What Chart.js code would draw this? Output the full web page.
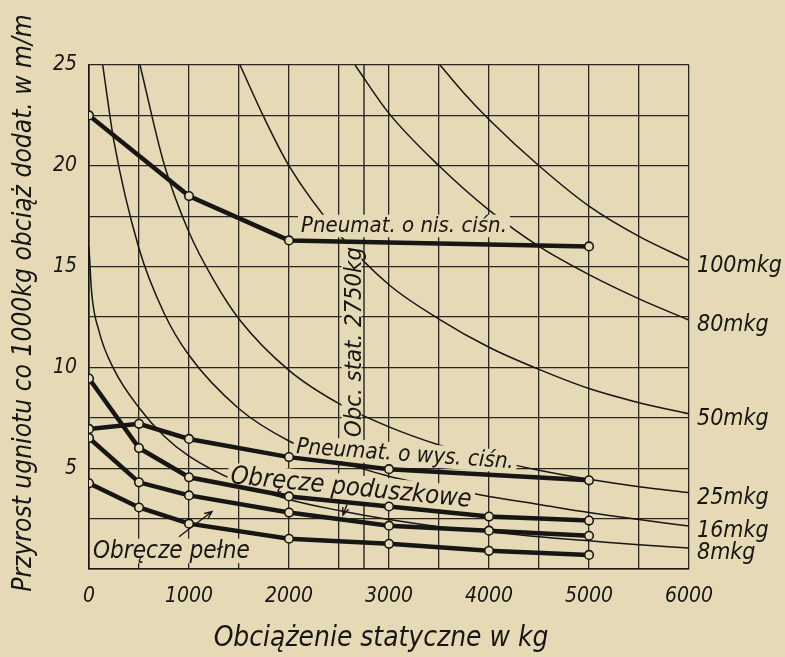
<!DOCTYPE html>
<html>
<head>
<meta charset="utf-8">
<script src="https://cdn.jsdelivr.net/npm/chart.js@4/dist/chart.umd.min.js"></script>
<style>
  html, body { margin: 0; padding: 0; background: #e6d9b6; }
  #wrap { width: 785px; height: 657px; }
</style>
</head>
<body>
<div id="wrap"><canvas id="c" width="785" height="657"></canvas></div>
<script>
const PAPER = '#e6d9b6';
const INK = '#171614';
const FONT = "'DejaVu Sans Condensed', 'Liberation Sans Narrow', 'DejaVu Sans', sans-serif";

// Axis ticks
const xTickValues = [0, 1000, 2000, 3000, 4000, 5000, 6000];
const yTickValues = [5, 10, 15, 20, 25];

// Measured tyre series: load (kg) -> deformation increment per 1000 kg (mm)
const loadsNis = [0, 1000, 2000, 5000];
const pneumatNis = [22.5, 18.5, 16.3, 16.0];

const loadsWys = [0, 500, 1000, 2000, 3000, 5000];
const pneumatWys = [6.95, 7.2, 6.45, 5.55, 4.95, 4.4];

const loadsRim = [0, 500, 1000, 2000, 3000, 4000, 5000];
const obreczeGorne = [9.45, 6.0, 4.55, 3.6, 3.1, 2.6, 2.4];
const obreczeSrodkowe = [6.5, 4.3, 3.65, 2.8, 2.15, 1.9, 1.65];
const obreczePelne = [4.25, 3.05, 2.25, 1.5, 1.25, 0.9, 0.7];

// Constant-energy curves (mkg)
const e100x = [3510, 3750, 4000, 4500, 5000, 5500, 6000];
const e100y = [25, 23.6, 22.3, 20.0, 18.0, 16.5, 15.3];

const e80x = [2660, 3000, 3500, 4000, 4500, 5000, 5500, 6000];
const e80y = [25, 22.6, 20.0, 17.8, 16.0, 14.6, 13.4, 12.35];

const e50x = [1510, 1750, 2000, 2500, 3000, 3500, 4000, 4500, 5000, 5500, 6000];
const e50y = [25, 22.4, 20.0, 16.6, 14.1, 12.4, 11.0, 9.9, 8.95, 8.25, 7.7];

const e25x = [510, 750, 1000, 1250, 1500, 2000, 2500, 3000, 3500, 4000, 4500, 5000, 5500, 6000];
const e25y = [25, 20.1, 16.7, 14.3, 12.4, 9.85, 8.2, 7.05, 6.15, 5.45, 4.9, 4.45, 4.08, 3.78];

const e16x = [137, 250, 500, 750, 1000, 1500, 2000, 2500, 3000, 3500, 4000, 4500, 5000, 5500, 6000];
const e16y = [25, 21.2, 15.9, 12.7, 10.6, 7.95, 6.35, 5.35, 4.6, 4.05, 3.6, 3.2, 2.8, 2.45, 2.13];

const e8x = [0, 25, 100, 250, 500, 750, 1000, 1500, 2000, 2500, 3000, 3500, 4000, 4500, 5000, 5500, 6000];
const e8y = [16, 13.8, 11.8, 9.9, 8.0, 6.6, 5.6, 4.3, 3.45, 2.9, 2.45, 2.1, 1.85, 1.6, 1.4, 1.2, 1.04];

const energyNames = ['100mkg', '80mkg', '50mkg', '25mkg', '16mkg', '8mkg'];

// Static load marker
const staticLoad = 2750;

function pts(xs, ys) { return xs.map((x, i) => ({ x, y: ys[i] })); }

function thickSeries(label, xs, ys) {
  return {
    label, data: pts(xs, ys), showLine: true, tension: 0,
    borderColor: INK, borderWidth: 4.5,
    pointRadius: 4.3, pointBorderWidth: 1.6,
    pointBackgroundColor: PAPER, pointBorderColor: INK,
    order: 0, thick: true
  };
}
function thinSeries(label, xs, ys) {
  return {
    label, data: pts(xs, ys), showLine: true,
    cubicInterpolationMode: 'monotone',
    borderColor: INK, borderWidth: 1.5, pointRadius: 0,
    order: 1, endLabel: label
  };
}

const datasets = [
  thickSeries('Pneumat. o nis. ciśn.', loadsNis, pneumatNis),
  thickSeries('Pneumat. o wys. ciśn.', loadsWys, pneumatWys),
  thickSeries('Obręcze poduszkowe', loadsRim, obreczeGorne),
  thickSeries('Obręcze poduszkowe (2)', loadsRim, obreczeSrodkowe),
  thickSeries('Obręcze pełne', loadsRim, obreczePelne),
  thinSeries(energyNames[0], e100x, e100y),
  thinSeries(energyNames[1], e80x, e80y),
  thinSeries(energyNames[2], e50x, e50y),
  thinSeries(energyNames[3], e25x, e25y),
  thinSeries(energyNames[4], e16x, e16y),
  thinSeries(energyNames[5], e8x, e8y),
  {
    label: 'Obc. stat. 2750kg', data: [{ x: staticLoad, y: 0 }, { x: staticLoad, y: 25 }],
    showLine: true, borderColor: INK, borderWidth: 1.3, pointRadius: 0, order: 1
  }
];

function fitSize(ctx, text, width, base) {
  ctx.font = `italic ${base}px ${FONT}`;
  const w = ctx.measureText(text).width;
  return base * width / w;
}

// text with a paper-coloured backing that hides grid and thin curves under it
function boxedText(ctx, text, x, y, width, angle, descent) {
  const size = fitSize(ctx, text, width, 20);
  ctx.save();
  ctx.translate(x, y);
  ctx.rotate(angle * Math.PI / 180);
  ctx.font = `italic ${size}px ${FONT}`;
  const w = ctx.measureText(text).width;
  ctx.fillStyle = PAPER;
  const d = descent === undefined ? size * 0.22 : descent;
  ctx.fillRect(-3, -size * 0.8, w + 6, size * 0.8 + d);
  ctx.fillStyle = INK;
  ctx.textBaseline = 'alphabetic';
  ctx.textAlign = 'left';
  ctx.fillText(text, 0, 0);
  ctx.restore();
}

function arrow(ctx, x0, y0, x1, y1) {
  const a = Math.atan2(y1 - y0, x1 - x0);
  const h = 8;
  ctx.save();
  ctx.strokeStyle = INK;
  ctx.lineWidth = 1.4;
  ctx.beginPath();
  ctx.moveTo(x0, y0); ctx.lineTo(x1, y1);
  ctx.moveTo(x1 - h * Math.cos(a - 0.4), y1 - h * Math.sin(a - 0.4));
  ctx.lineTo(x1, y1);
  ctx.lineTo(x1 - h * Math.cos(a + 0.4), y1 - h * Math.sin(a + 0.4));
  ctx.stroke();
  ctx.restore();
}

function drawCurveLabels(chart) {
  const ctx = chart.ctx, sx = chart.scales.x, sy = chart.scales.y;
  const P = (x, y) => [sx.getPixelForValue(x), sy.getPixelForValue(y)];
  boxedText(ctx, 'Pneumat. o nis. ciśn.', ...P(2120, 16.7), 206, 0);
  boxedText(ctx, 'Pneumat. o wys. ciśn.', ...P(2070, 5.75), 218, 4);
  boxedText(ctx, 'Obręcze poduszkowe', ...P(1410, 4.27), 242, 5.7);
  boxedText(ctx, 'Obręcze pełne', ...P(40, 0.55), 157, 0);
  boxedText(ctx, 'Obc. stat. 2750kg', ...P(2715, 6.55), 190, -90, 1);
}

const decor = {
  id: 'decor',
  beforeDraw(chart) {
    const c = chart.ctx;
    c.save();
    c.fillStyle = PAPER;
    c.fillRect(0, 0, chart.width, chart.height);
    c.restore();
  },
  beforeDatasetsDraw(chart) { chart.$labelsDone = false; },
  beforeDatasetDraw(chart, args) {
    if (!chart.$labelsDone && chart.data.datasets[args.index].thick) {
      drawCurveLabels(chart);
      chart.$labelsDone = true;
    }
  },
  afterDraw(chart) {
    const ctx = chart.ctx, sx = chart.scales.x, sy = chart.scales.y;
    const area = chart.chartArea;

    // energy labels at the right-hand ends of the curves
    ctx.save();
    ctx.fillStyle = INK;
    ctx.font = `italic 23px ${FONT}`;
    ctx.textAlign = 'left';
    ctx.textBaseline = 'alphabetic';
    chart.data.datasets.forEach(ds => {
      if (!ds.endLabel) return;
      const last = ds.data[ds.data.length - 1];
      ctx.fillText(ds.endLabel, area.right + 8, sy.getPixelForValue(last.y) + 11);
    });
    ctx.restore();

    // pointer arrows
    arrow(ctx, ...[sx.getPixelForValue(900), sy.getPixelForValue(1.6)],
               ...[sx.getPixelForValue(1230), sy.getPixelForValue(2.85)]);
    arrow(ctx, ...[sx.getPixelForValue(2580), sy.getPixelForValue(3.2)],
               ...[sx.getPixelForValue(2540), sy.getPixelForValue(2.68)]);

    // axis titles
    ctx.save();
    ctx.fillStyle = INK;
    const xt = 'Obciążenie statyczne w kg';
    const xs = fitSize(ctx, xt, 335, 20);
    ctx.font = `italic ${xs}px ${FONT}`;
    ctx.textAlign = 'center';
    ctx.textBaseline = 'middle';
    ctx.fillText(xt, (area.left + area.right) / 2 - 8, 639);

    const yt = 'Przyrost ugniotu co 1000kg obciąż dodat. w m/m';
    const ysz = fitSize(ctx, yt, 578, 20);
    ctx.translate(24, 303);
    ctx.rotate(-Math.PI / 2);
    ctx.font = `italic ${ysz}px ${FONT}`;
    ctx.fillText(yt, 0, 0);
    ctx.restore();
  }
};

const tickFont = { family: FONT, size: 21, style: 'italic' };

new Chart(document.getElementById('c'), {
  type: 'scatter',
  data: { datasets },
  options: {
    responsive: false,
    animation: false,
    devicePixelRatio: 1,
    layout: { padding: { left: 0, top: 65, right: 96, bottom: 0 } },
    plugins: { legend: { display: false }, tooltip: { enabled: false } },
    scales: {
      x: {
        type: 'linear', min: 0, max: 6000,
        afterFit(s) { s.height = 88; },
        grid: { color: '#2a2723', lineWidth: 1.3, drawTicks: false },
        border: { display: true, color: INK, width: 1.6 },
        ticks: {
          stepSize: 500, autoSkip: false, maxRotation: 0, padding: 15,
          color: INK, font: tickFont,
          callback: v => xTickValues.includes(v) ? String(v) : ''
        }
      },
      y: {
        type: 'linear', min: 0, max: 25,
        afterFit(s) { s.width = 89; },
        grid: { color: '#2a2723', lineWidth: 1.3, drawTicks: false },
        border: { display: true, color: INK, width: 1.6 },
        ticks: {
          stepSize: 2.5, autoSkip: false, padding: 12,
          color: INK, font: tickFont,
          callback: v => yTickValues.includes(v) ? String(v) : ''
        }
      }
    }
  },
  plugins: [decor]
});
</script>
</body>
</html>
